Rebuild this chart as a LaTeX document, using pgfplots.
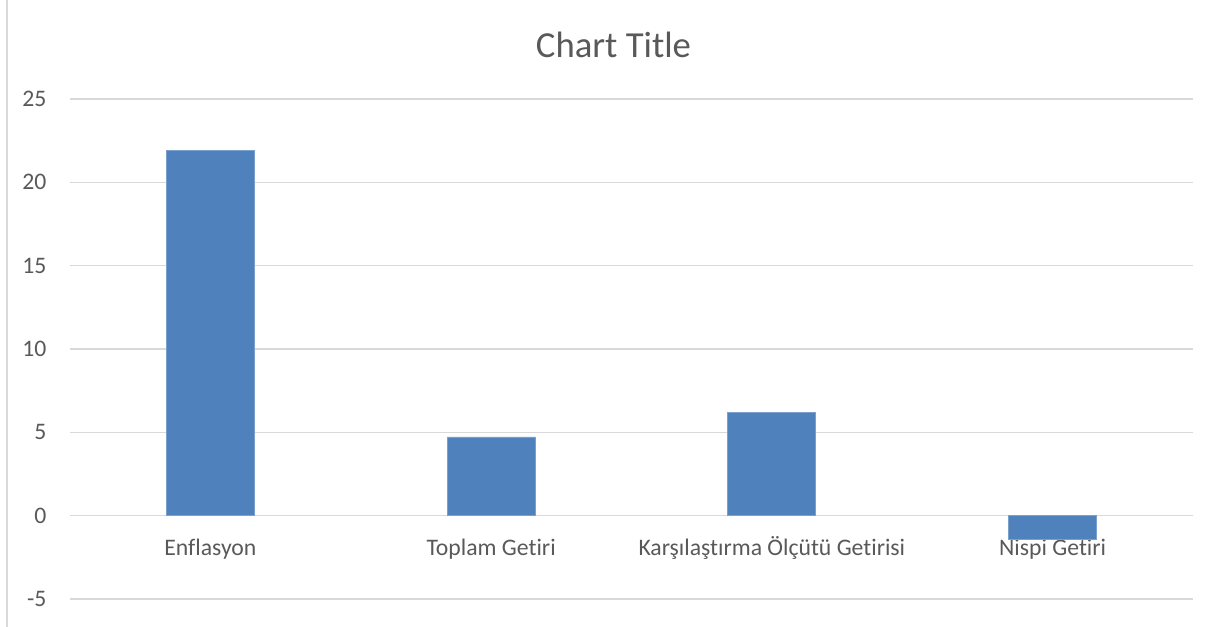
\documentclass[border=0pt]{standalone}
\usepackage{pgfplots}
\pgfplotsset{compat=1.18}
\usepackage{fontspec}
\setmainfont[Ligatures={NoCommon}]{Carlito}
\definecolor{barblue}{HTML}{4F81BD}
\definecolor{txt}{HTML}{595959}
\definecolor{gridc}{HTML}{D9D9D9}
\begin{document}
\begin{tikzpicture}[x=1bp,y=1bp]
\path[use as bounding box] (0,0) rectangle (1219,627);
\draw[gridc, line width=1.5bp] (7,0) -- (7,627);
\node[text=txt, font=\fontsize{36.7bp}{44bp}\selectfont] at (613.5,582) {Chart Title};
\begin{axis}[at={(70bp,28bp)}, anchor=south west, scale only axis,
  width=1123bp, height=500bp,
  xmin=-0.5, xmax=3.5, ymin=-5, ymax=25,
  ytick={-5,0,5,10,15,20,25}, xtick={0,1,2,3},
  xticklabels={Enflasyon, Toplam Getiri, Karşılaştırma Ölçütü Getirisi, Nispi Getiri},
  axis line style={draw=none}, major tick length=0pt,
  ymajorgrids, grid style={gridc, line width=1.5bp},
  tick label style={text=txt, font=\fontsize{23.7bp}{28bp}\selectfont},
  yticklabel style={xshift=-20bp},
  xticklabel style={anchor=base, yshift=43bp},
  /pgf/number format/assume math mode=true,
  ybar, bar width=88bp,
]
\addplot[fill=barblue, draw=barblue!75!white, line width=0.8bp, bar shift=0pt] coordinates {(0,21.9) (1,4.72) (2,6.17) (3,-1.43)};
\end{axis}
\end{tikzpicture}
\end{document}
